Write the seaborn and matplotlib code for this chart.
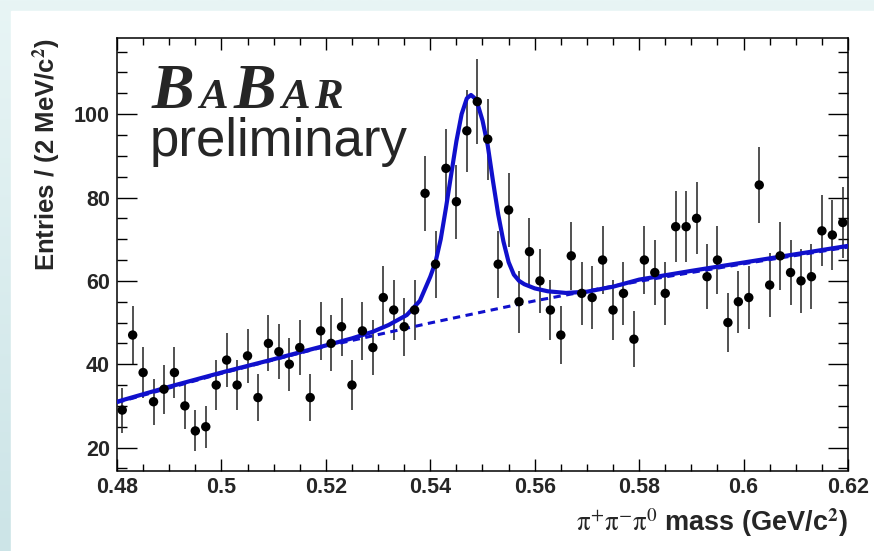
import numpy as np
import pandas as pd
import seaborn as sns
import matplotlib.pyplot as plt
from matplotlib.colors import LinearSegmentedColormap
from matplotlib.patches import Rectangle
from matplotlib.ticker import MultipleLocator, FuncFormatter
from matplotlib.transforms import IdentityTransform

# Einträge pro Bin (2 MeV), von 0.48 bis 0.62 GeV
counts = [29, 47, 38, 31, 34, 38, 30, 24, 25, 35,
          41, 35, 42, 32, 45, 43, 40, 44, 32, 48,
          45, 49, 35, 48, 44, 56, 53, 49, 53, 81,
          64, 87, 79, 96, 103, 94, 64, 77, 55, 67,
          60, 53, 47, 66, 57, 56, 65, 53, 57, 46,
          65, 62, 57, 73, 73, 75, 61, 65, 50, 55,
          56, 83, 59, 66, 62, 60, 61, 72, 71, 74]
bin_lo, bin_hi = 0.48, 0.62

# Fit: Gesamtkurve
fit_x = [0.480, 0.490, 0.500, 0.510, 0.520, 0.525, 0.529, 0.532, 0.5355, 0.538,
         0.540, 0.541, 0.542, 0.543, 0.544, 0.545, 0.546, 0.547, 0.5478, 0.5488,
         0.550, 0.551, 0.552, 0.553, 0.554, 0.555, 0.556, 0.557, 0.558, 0.560,
         0.5625, 0.566, 0.570, 0.575, 0.580, 0.590, 0.600, 0.610, 0.620]
fit_y = [31.0, 34.6, 38.0, 41.2, 44.5, 46.2, 47.8, 49.4, 51.8, 55.2,
         61.0, 64.5, 70.0, 77.5, 85.5, 93.5, 100.0, 103.8, 104.6, 103.5,
         98.5, 92.5, 84.0, 76.0, 69.5, 64.5, 61.5, 60.0, 59.2, 58.2,
         57.5, 57.1, 57.4, 58.6, 60.3, 62.4, 64.4, 66.4, 68.4]

# Untergrund (gestrichelt)
bkg_x = [0.48, 0.50, 0.52, 0.54, 0.56, 0.58, 0.60, 0.62]
bkg_y = [30.8, 37.8, 44.3, 49.9, 55.2, 59.9, 64.1, 68.1]

edges = np.linspace(bin_lo, bin_hi, len(counts) + 1)
df = pd.DataFrame({'masse': (edges[:-1] + edges[1:]) / 2, 'n': counts})
df['err'] = np.sqrt(df['n'])

sns.set_theme(style='ticks')
plt.rcParams['font.family'] = ['Liberation Sans', 'DejaVu Sans']
plt.rcParams['mathtext.fontset'] = 'stix'

fig = plt.figure(figsize=(8.74, 5.51), dpi=100)

# Hintergrund: hellblauer Rand, weisse Flaeche
bg = fig.add_axes([0, 0, 1, 1], zorder=-10)
cmap = LinearSegmentedColormap.from_list('rand', ['#cce4e7', '#e8f5f5'])
bg.imshow(np.linspace(0, 1, 256).reshape(-1, 1), cmap=cmap, aspect='auto',
          extent=[0, 1, 0, 1], origin='lower')
bg.add_patch(Rectangle((11 / 874, 0), 1, 1 - 11 / 551, color='white'))
bg.set_xlim(0, 1)
bg.set_ylim(0, 1)
bg.axis('off')

ax = fig.add_axes([117 / 874, 1 - 470.5 / 551, 731 / 874, 432.2 / 551])
ax.set_facecolor('white')

blau = '#1010cc'
ax.vlines(df['masse'], df['n'] - df['err'], df['n'] + df['err'], color='#222222', lw=1.1, zorder=2)
sns.lineplot(x=bkg_x, y=bkg_y, ax=ax, color=blau, lw=2.2, linestyle=(0, (2.4, 1.8)), zorder=3)
sns.lineplot(x=fit_x, y=fit_y, ax=ax, color=blau, lw=3.0, sort=False, estimator=None, zorder=4)
sns.scatterplot(data=df, x='masse', y='n', ax=ax, color='black', s=46, edgecolor='none', zorder=5)

ax.set_xlim(bin_lo, bin_hi)
ax.set_ylim(14.5, 118.2)
ax.xaxis.set_major_locator(MultipleLocator(0.02))
ax.xaxis.set_minor_locator(MultipleLocator(0.005))
ax.yaxis.set_major_locator(MultipleLocator(20))
ax.yaxis.set_minor_locator(MultipleLocator(5))
ax.xaxis.set_major_formatter(FuncFormatter(lambda v, p: '%g' % round(v, 3)))
ax.yaxis.set_major_formatter(FuncFormatter(lambda v, p: '%g' % v))
ax.set_yticks([20, 40, 60, 80, 100])

ax.tick_params(which='both', direction='in', top=True, right=True, width=1.0, color='black')
ax.tick_params(axis='x', which='major', length=8.6, pad=4.5)
ax.tick_params(axis='x', which='minor', length=4.8)
ax.tick_params(axis='y', which='major', length=14.4, pad=5)
ax.tick_params(axis='y', which='minor', length=7.2)
for lab in ax.get_xticklabels() + ax.get_yticklabels():
    lab.set_fontsize(15.5)
    lab.set_fontweight('bold')
for s in ax.spines.values():
    s.set_linewidth(1.1)
    s.set_color('black')

ax.set_xlabel(r'$\mathrm{\pi}^{+}\mathrm{\pi}^{-}\mathrm{\pi}^{0}$ mass (GeV/c$^{\mathbf{2}}$)',
              fontsize=19.5, fontweight='bold', loc='right', labelpad=6)
ax.set_ylabel(r'Entries / (2 MeV/c$^{\mathbf{2}}$)', fontsize=18.5, fontweight='bold',
              loc='top', labelpad=8)

# BaBar-Logo
r = fig.canvas.get_renderer()
x = 152
for s, size in [('B', 46), ('A', 31), ('B', 46), ('A', 31), ('R', 31)]:
    t = fig.text(x, 551 - 108, s, transform=IdentityTransform(), fontsize=size,
                 family='Liberation Serif', weight='bold', style='italic', va='baseline')
    x = t.get_window_extent(r).x1 + 5
fig.text(150, 551 - 156, 'preliminary', transform=IdentityTransform(), fontsize=38,
         family='Liberation Sans', va='baseline')

fig.savefig('out.png', dpi=100)
